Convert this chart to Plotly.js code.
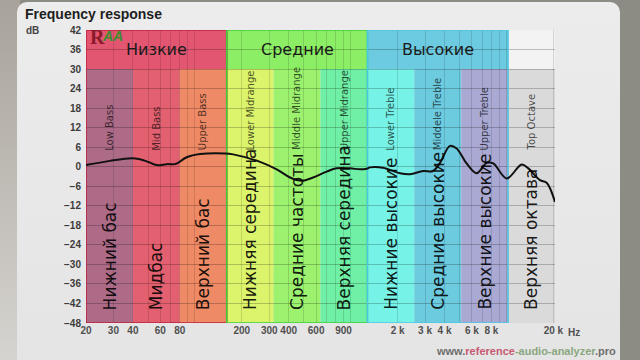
<!DOCTYPE html>
<html>
<head>
<meta charset="utf-8">
<script src="https://cdn.plot.ly/plotly-3.0.1.min.js"></script>
<style>
  html, body { margin: 0; padding: 0; width: 640px; height: 360px; overflow: hidden; background: #8c8b84; }
  #leftstrip { position: absolute; left: 0; top: 0; width: 20px; height: 360px; background: linear-gradient(#a8a29a, #d6d4d0); }
  #panel { position: absolute; left: 17px; top: 2px; width: 603px; height: 380px; border-radius: 10px; background: linear-gradient(#ececec, #e4e4e4); }
  #chart { position: absolute; left: 0; top: 0; width: 640px; height: 360px; }
</style>
</head>
<body>
<div id="leftstrip"></div>
<div id="panel"></div>
<div id="chart"></div>
<script>
// ---- data ----
const freqs = [20, 28.5, 39.3, 44.4, 50, 56.9, 65.9, 74.5, 77.9, 88.6, 108, 156, 176, 262, 335, 408, 485, 573, 701, 813, 990, 1148, 1267, 1330, 1612, 2072, 2402, 2924, 3375, 3742, 4336, 4787, 5552, 6438, 7464, 8227, 10032, 12520, 13800, 16400, 18100, 20480];
const dbValues = [0.5, 1.8, 2.6, 2.3, 1.5, 0.5, 0.8, 0.8, 1.2, 2.9, 3.9, 4.1, 3.8, 1.5, -0.8, -3.3, -4.3, -3.3, -1.5, -0.5, -0.5, -0.8, -0.6, -0.2, -0.3, -2.0, -2.3, -1.3, -1.3, 1.2, 6.4, 5.6, 1.0, -2.0, 1.2, 1.0, -3.6, 0.7, -0.5, -4.1, -4.9, -10.8];

const bandEdges = [20, 40, 80, 160, 320, 640, 1280, 2560, 5120, 10240, 20480];
const bandNamesEn = ['Low Bass', 'Mid Bass', 'Upper Bass', 'Lower Midrange', 'Middle Midrange', 'Upper Midrange', 'Lower Treble', 'Middele Treble', 'Upper Treble', 'Top Octave'];
const bandNamesRu = ['Нижний бас', 'Мидбас', 'Верхний бас', 'Нижняя середина', 'Средние частоты', 'Верхняя середина', 'Нижние высокие', 'Средние высокие', 'Верхние высокие', 'Верхняя октава'];
const bandColors = ['#ad6b88', '#e2606f', '#ef8a66', '#dcf36c', '#9cf26e', '#70f0a6', '#76f2e6', '#6ccbdf', '#a9a9d4', '#dadada'];

const groupEdges = [20, 160, 1280, 10240, 20480];
const groupNames = ['Низкие', 'Средние', 'Высокие', ''];
const groupColors = ['#e35671', '#8cee64', '#6ccbe0', '#f3f3f3'];
const groupLineColors = ['#c0203c', '#3ccf3c', '#4cc8e4', 'rgba(0,0,0,0)'];

const xTickVals = [20, 30, 40, 50, 60, 70, 80, 90, 100, 200, 300, 400, 500, 600, 700, 800, 900, 1000, 2000, 3000, 4000, 5000, 6000, 7000, 8000, 9000, 10000, 20000];
const xTickText = ['20', '30', '40', '', '60', '', '80', '', '', '200', '300', '400', '', '600', '', '', '900', '', '2 k', '3 k', '4 k', '', '6 k', '', '8 k', '', '', '20 k'];

// ---- build ----
const shapes = [];
const annotations = [];
for (let i = 0; i < bandColors.length; i++) {
  shapes.push({type: 'rect', xref: 'x', yref: 'y', x0: bandEdges[i], x1: bandEdges[i + 1], y0: -48, y1: 30,
    fillcolor: bandColors[i], line: {width: 0}, layer: 'below'});
  const mid = Math.sqrt(bandEdges[i] * bandEdges[i + 1]);
  annotations.push({xref: 'x', yref: 'y', x: Math.log10(mid), y: 4.4, text: bandNamesEn[i], textangle: -90,
    xanchor: 'center', yanchor: 'bottom', showarrow: false,
    font: {family: 'DejaVu Sans', size: 10, color: 'rgba(0,0,0,0.68)'}});
  annotations.push({xref: 'x', yref: 'y', x: Math.log10(mid), y: -44.6, text: bandNamesRu[i], textangle: -90,
    xanchor: 'center', yanchor: 'bottom', showarrow: false,
    font: {family: 'DejaVu Sans', size: 17, color: 'rgba(0,0,0,0.9)'}});
}
for (let g = 0; g < groupColors.length; g++) {
  shapes.push({type: 'rect', xref: 'x', yref: 'y', x0: groupEdges[g], x1: groupEdges[g + 1], y0: 30, y1: 42,
    fillcolor: groupColors[g], line: {width: 0}, layer: 'below'});
  shapes.push({type: 'rect', xref: 'x', yref: 'y', x0: groupEdges[g], x1: groupEdges[g + 1], y0: -48, y1: 42,
    fillcolor: 'rgba(0,0,0,0)', line: {width: 1.5, color: groupLineColors[g]}, layer: 'between'});
  if (groupNames[g]) {
    const gm = Math.sqrt(groupEdges[g] * groupEdges[g + 1]);
    annotations.push({xref: 'x', yref: 'y', x: Math.log10(gm), y: 36, text: groupNames[g],
      xanchor: 'center', yanchor: 'middle', showarrow: false,
      font: {family: 'DejaVu Sans', size: 16, color: '#1a1a1a'}});
  }
}
// logo
annotations.push({xref: 'paper', yref: 'paper', x: 0.004, y: 0.975, xanchor: 'left', yanchor: 'middle', showarrow: false,
  text: '<b>R</b>', font: {family: 'Liberation Serif', size: 20, color: '#8b1b2a'}});
annotations.push({xref: 'paper', yref: 'paper', x: 0.03, y: 0.98, xanchor: 'left', yanchor: 'middle', showarrow: false,
  text: '<b><i>AA</i></b>', font: {family: 'Liberation Sans', size: 14, color: '#3a8f2c'}});
// axis unit labels
annotations.push({xref: 'paper', yref: 'paper', x: (24 - 86) / 469, y: 1.0, xanchor: 'left', yanchor: 'middle', showarrow: false,
  text: '<b>dB</b>', font: {family: 'Liberation Sans', size: 10, color: '#444'}});
annotations.push({xref: 'paper', yref: 'paper', x: (566 - 86) / 469, y: (323 - 332) / 293, xanchor: 'left', yanchor: 'middle', showarrow: false,
  text: '<b>Hz</b>', font: {family: 'Liberation Sans', size: 10, color: '#505050'}});
// watermark
annotations.push({xref: 'paper', yref: 'paper', x: (618 - 86) / 469, y: (323 - 351) / 293, xanchor: 'right', yanchor: 'middle', showarrow: false,
  text: '<b><span style="color:#6e6e6e">www.</span><span style="color:#c65a72">reference</span><span style="color:#8aa67e">-audio-analyzer</span><span style="color:#6e6e6e">.pro</span></b>',
  font: {family: 'Liberation Sans', size: 11}});

const trace = {
  x: freqs, y: dbValues, type: 'scatter', mode: 'lines',
  line: {color: '#111111', width: 2, shape: 'spline', smoothing: 1},
  hoverinfo: 'skip', showlegend: false
};

const layout = {
  width: 640, height: 360,
  margin: {l: 86, r: 85, t: 30, b: 37},
  paper_bgcolor: 'rgba(0,0,0,0)', plot_bgcolor: 'rgba(0,0,0,0)',
  title: {text: '<b>Frequency response</b>', x: 25 / 640, xref: 'container', xanchor: 'left', y: 1 - 14 / 360, yref: 'container', yanchor: 'middle',
    font: {family: 'Liberation Sans', size: 14, color: '#1e1e1e'}},
  xaxis: {type: 'log', range: [Math.log10(20), Math.log10(20480)], tickmode: 'array', tickvals: xTickVals, ticktext: xTickText,
    showgrid: true, gridcolor: 'rgba(0,0,0,0.13)', gridwidth: 1, zeroline: false, showline: false, ticks: '',
    tickfont: {family: 'Liberation Sans', size: 10, color: '#505050', weight: 'bold'}, fixedrange: true},
  yaxis: {range: [-48, 42], tick0: 0, dtick: 6, showgrid: true, gridcolor: 'rgba(0,0,0,0.22)', gridwidth: 1,
    zeroline: false, showline: false, ticks: '', ticklabelstandoff: 4,
    tickfont: {family: 'Liberation Sans', size: 10, color: '#3c3c3c', weight: 'bold'}, fixedrange: true},
  shapes: shapes, annotations: annotations, showlegend: false
};
Plotly.newPlot('chart', [trace], layout, {displayModeBar: false, staticPlot: true});
</script>
</body>
</html>
